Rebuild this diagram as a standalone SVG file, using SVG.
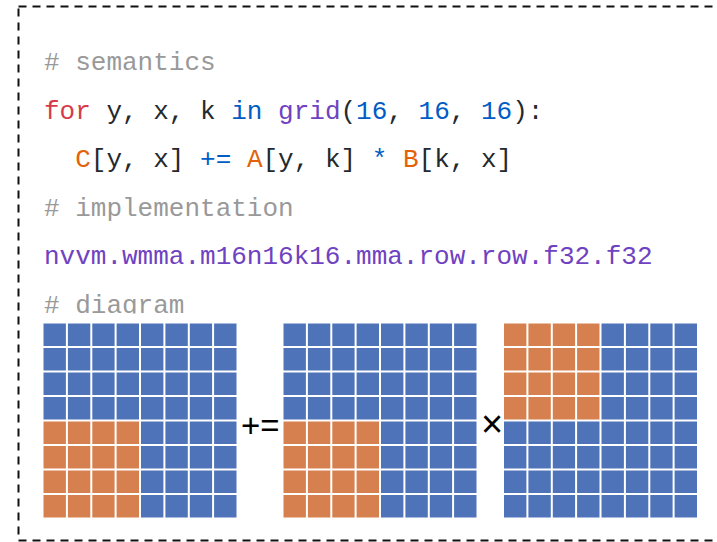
<svg xmlns="http://www.w3.org/2000/svg" width="717" height="542" viewBox="0 0 717 542">
<defs>
<style>
.code{font-family:"Liberation Mono","DejaVu Sans Mono",monospace;font-size:26px;fill:#24292e;white-space:pre}
.cm{fill:#999999}
.kw{fill:#d73a49}
.bl{fill:#005cc5}
.pu{fill:#6f42c1}
.or{fill:#e36209}
.op{font-family:"Liberation Sans","DejaVu Sans",sans-serif;font-size:33px;fill:#000}
.b{fill:#4e73b9}
.o{fill:#d6804f}
.gl{stroke:#ffffff;stroke-width:2;fill:none}
</style>
<clipPath id="clipDiag"><rect x="0" y="280" width="717" height="33.5"/></clipPath>
<path id="gridlines" class="gl" d="M0,0H195V196H0Z M24.4,0V196 M48.8,0V196 M73.1,0V196 M97.5,0V196 M121.9,0V196 M146.3,0V196 M170.6,0V196 M0,24.5H195 M0,49H195 M0,73.5H195 M0,98H195 M0,122.5H195 M0,147H195 M0,171.5H195"/>
</defs>
<rect width="717" height="542" fill="#ffffff"/>
<rect id="frame" x="18.5" y="6.5" width="710" height="534" fill="none" stroke="#111" stroke-width="2" stroke-dasharray="8,6"/>
<g id="code">
<text class="code cm" x="44" y="70"># semantics</text>
<text class="code" x="44" y="118.5"><tspan class="kw">for</tspan> y, x, k <tspan class="bl">in</tspan> <tspan class="pu">grid</tspan>(<tspan class="bl">16</tspan>, <tspan class="bl">16</tspan>, <tspan class="bl">16</tspan>):</text>
<text class="code" x="44" y="167">  <tspan class="or">C</tspan>[y, x] <tspan class="bl">+=</tspan> <tspan class="or">A</tspan>[y, k] <tspan class="bl">*</tspan> <tspan class="or">B</tspan>[k, x]</text>
<text class="code cm" x="44" y="215.5"># implementation</text>
<text class="code pu" x="44" y="264">nvvm.wmma.m16n16k16.mma.row.row.f32.f32</text>
<text class="code cm" x="44" y="312.5" clip-path="url(#clipDiag)"># diagram</text>
</g>
<g id="matrixC" transform="translate(42.5,322.5)">
<rect class="b" width="195" height="196"/>
<rect class="o" x="0" y="98" width="97.5" height="98"/>
<use href="#gridlines"/>
</g>
<g id="opPlusEq">
<text class="op" x="241" y="436.5">+=</text>
</g>
<g id="opTimes">
<text class="op" x="481" y="437" style="font-size:38px">×</text>
</g>
<g id="matrixA" transform="translate(282.5,322.5)">
<rect class="b" width="195" height="196"/>
<rect class="o" x="0" y="98" width="97.5" height="98"/>
<use href="#gridlines"/>
</g>
<g id="matrixB" transform="translate(503,322.5)">
<rect class="b" width="195" height="196"/>
<rect class="o" x="0" y="0" width="97.5" height="98"/>
<use href="#gridlines"/>
</g>
<g id="connectors"/>
</svg>
